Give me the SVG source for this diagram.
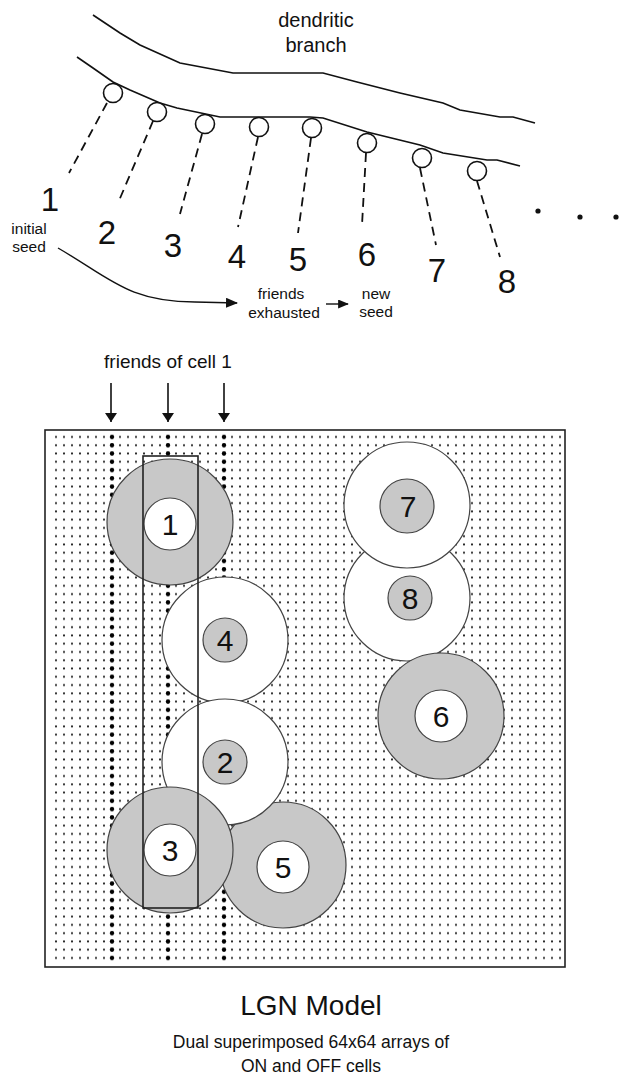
<svg xmlns="http://www.w3.org/2000/svg" width="621" height="1079" viewBox="0 0 621 1079">
<style>
  .t { font-family: "Liberation Sans", Arial, sans-serif; fill: #111; }
  .line { fill: none; stroke: #111; stroke-width: 1.6; }
  .spine { fill: #fff; stroke: #111; stroke-width: 1.6; }
  .dash { stroke: #111; stroke-width: 1.8; stroke-dasharray: 9 6; fill: none; }
  .big { font-size: 33px; text-anchor: middle; }
  .small { font-size: 15.5px; text-anchor: middle; }
  .gray { fill: #c8c8c8; stroke: #444; stroke-width: 1.2; }
  .white { fill: #fff; stroke: #444; stroke-width: 1.2; }
  .cnum { font-size: 30px; text-anchor: middle; }
</style>
<defs>
  <pattern id="dots" patternUnits="userSpaceOnUse" x="52" y="432.865" width="8" height="8.27">
    <circle cx="4" cy="4.135" r="1.05" fill="#222"/>
  </pattern>
  <pattern id="bigdots" patternUnits="userSpaceOnUse" x="52" y="432.865" width="8" height="8.27">
    <circle cx="4" cy="4.135" r="2.2" fill="#000"/>
  </pattern>
  <marker id="ah" viewBox="0 0 12 10" refX="11" refY="5" markerWidth="12" markerHeight="10" markerUnits="userSpaceOnUse" orient="auto">
    <path d="M0,0 L12,5 L0,10 Z" fill="#111"/>
  </marker>
  <marker id="ahs" viewBox="0 0 12 10" refX="11" refY="5" markerWidth="11" markerHeight="9" markerUnits="userSpaceOnUse" orient="auto">
    <path d="M0,0 L12,5 L0,10 Z" fill="#111"/>
  </marker>
  <marker id="ahd" viewBox="0 0 12 16" refX="12" refY="8" markerWidth="17" markerHeight="12" markerUnits="userSpaceOnUse" orient="auto">
    <path d="M0,0 L12,8 L0,16 Z" fill="#111"/>
  </marker>
</defs>
<rect width="621" height="1079" fill="#fff"/>

<g id="dendrite">
  <path class="line" d="M93,15 L120,33 L140,45 L180,63 L233,73 L323,73 L357,82 L400,93 L443,103 L460,110 L500,117 L513,117 L535,123"/>
  <path class="line" d="M77,57 L93,68 L113,82 L130,90 L160,103 L177,108 L220,117 L310,117 L323,118 L367,132 L420,145 L443,153 L487,160 L497,160 L520,166"/>
  <text class="t" x="316" y="27" font-size="20" text-anchor="middle">dendritic</text>
  <text class="t" x="316" y="52" font-size="20" text-anchor="middle">branch</text>
</g>

<g id="connectors">
  <line class="dash" x1="107" y1="103" x2="69" y2="173"/>
  <line class="dash" x1="153" y1="121" x2="118" y2="203"/>
  <line class="dash" x1="202" y1="134" x2="180" y2="214"/>
  <line class="dash" x1="258" y1="137" x2="238" y2="227"/>
  <line class="dash" x1="311" y1="138" x2="298" y2="233"/>
  <line class="dash" x1="366" y1="153" x2="362" y2="225"/>
  <line class="dash" x1="420" y1="168" x2="436" y2="245"/>
  <line class="dash" x1="477" y1="181" x2="500" y2="257"/>
  <path d="M58,248 C110,278 128,302 195,302 L237,303" fill="none" stroke="#111" stroke-width="1.4" marker-end="url(#ah)"/>
  <line x1="326" y1="304" x2="348" y2="304" stroke="#111" stroke-width="1.4" marker-end="url(#ahs)"/>
  <line x1="111" y1="383" x2="111" y2="422" stroke="#111" stroke-width="1.6" marker-end="url(#ahd)"/>
  <line x1="168" y1="383" x2="168" y2="422" stroke="#111" stroke-width="1.6" marker-end="url(#ahd)"/>
  <line x1="224" y1="383" x2="224" y2="422" stroke="#111" stroke-width="1.6" marker-end="url(#ahd)"/>
</g>

<g id="spines">
  <circle class="spine" cx="113" cy="93" r="9.5"/>
  <circle class="spine" cx="157" cy="112" r="9.5"/>
  <circle class="spine" cx="205" cy="124" r="9.5"/>
  <circle class="spine" cx="259" cy="127" r="9.5"/>
  <circle class="spine" cx="312" cy="128" r="9.5"/>
  <circle class="spine" cx="367" cy="143" r="9.5"/>
  <circle class="spine" cx="422" cy="158" r="9.5"/>
  <circle class="spine" cx="477" cy="171" r="9.5"/>
</g>

<g id="seq-labels">
  <text class="t big" x="50" y="211">1</text>
  <text class="t big" x="107" y="244">2</text>
  <text class="t big" x="173" y="257">3</text>
  <text class="t big" x="237" y="268">4</text>
  <text class="t big" x="298" y="271">5</text>
  <text class="t big" x="367" y="266">6</text>
  <text class="t big" x="437" y="282">7</text>
  <text class="t big" x="507" y="293">8</text>
  <circle cx="538" cy="211" r="2.6" fill="#111"/>
  <circle cx="580" cy="217" r="2.6" fill="#111"/>
  <circle cx="616" cy="217" r="2.6" fill="#111"/>
  <text class="t small" x="29" y="234">initial</text>
  <text class="t small" x="29" y="252">seed</text>
  <text class="t small" x="281" y="299">friends</text>
  <text class="t small" x="284" y="318">exhausted</text>
  <text class="t small" x="376" y="299">new</text>
  <text class="t small" x="376" y="317">seed</text>
  <text class="t" x="168" y="368" font-size="19" text-anchor="middle">friends of cell 1</text>
</g>

<g id="lgn-array">
  <rect x="45" y="430" width="520" height="537" fill="#fff" stroke="#222" stroke-width="1.6"/>
  <rect x="52" y="432.865" width="512" height="529.28" fill="url(#dots)"/>
  <rect x="108" y="432.865" width="8" height="529.28" fill="url(#bigdots)"/>
  <rect x="164" y="432.865" width="8" height="529.28" fill="url(#bigdots)"/>
  <rect x="220" y="432.865" width="8" height="529.28" fill="url(#bigdots)"/>
</g>

<g id="cell8">
  <circle class="white" cx="407" cy="598" r="63"/>
  <circle class="gray" cx="410" cy="598" r="22"/>
  <text class="t cnum" x="410" y="609">8</text>
</g>
<g id="cell7">
  <circle class="white" cx="407" cy="505" r="63"/>
  <circle class="gray" cx="407" cy="506" r="27"/>
  <text class="t cnum" x="408" y="517">7</text>
</g>
<g id="cell6">
  <circle class="gray" cx="441" cy="716" r="63"/>
  <circle class="white" cx="441" cy="716" r="26"/>
  <text class="t cnum" x="441" y="727">6</text>
</g>
<g id="cell5">
  <circle class="gray" cx="283" cy="865" r="63"/>
  <circle class="white" cx="283" cy="867" r="26"/>
  <text class="t cnum" x="283" y="878">5</text>
</g>
<g id="cell4">
  <circle class="white" cx="225" cy="640" r="63"/>
  <circle class="gray" cx="225" cy="640" r="22"/>
  <text class="t cnum" x="225" y="651">4</text>
</g>
<g id="cell2">
  <circle class="white" cx="225" cy="762" r="63"/>
  <circle class="gray" cx="225" cy="762" r="22"/>
  <text class="t cnum" x="225" y="773">2</text>
</g>
<g id="cell3">
  <circle class="gray" cx="170" cy="850" r="63"/>
  <circle class="white" cx="170" cy="850" r="26"/>
  <text class="t cnum" x="170" y="861">3</text>
</g>
<g id="cell1">
  <circle class="gray" cx="170" cy="522" r="63"/>
  <circle class="white" cx="170" cy="524" r="26"/>
  <text class="t cnum" x="170" y="535">1</text>
</g>

<g id="friends-box">
  <rect x="143" y="456" width="55" height="452" fill="none" stroke="#222" stroke-width="1.6"/>
</g>

<g id="caption">
  <text class="t" x="311" y="1015" font-size="28" text-anchor="middle">LGN Model</text>
  <text class="t" x="311" y="1048" font-size="17.5" text-anchor="middle">Dual superimposed 64x64 arrays of</text>
  <text class="t" x="311" y="1072" font-size="17.5" text-anchor="middle">ON and OFF cells</text>
</g>
</svg>
